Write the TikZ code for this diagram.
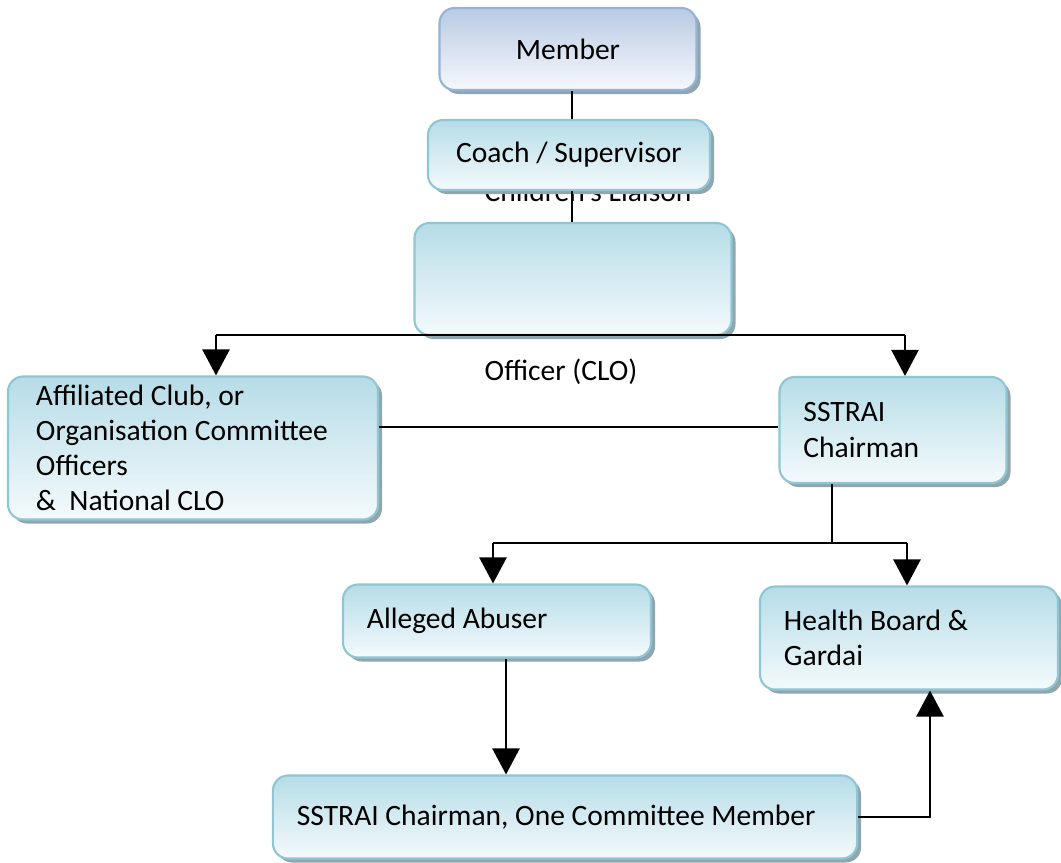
\documentclass[tikz,border=0pt]{standalone}
\usepackage{fontspec}
\setmainfont{Carlito}
\usepackage{xcolor}
\usepackage{tikz}
\usetikzlibrary{arrows.meta,shadows}
\definecolor{boxline}{HTML}{8FC6D5}
\definecolor{boxtop}{HTML}{B6DCE7}
\definecolor{boxbot}{HTML}{F4FAFC}
\definecolor{memline}{HTML}{95B3D7}
\definecolor{memtop}{HTML}{B9CAE4}
\definecolor{membot}{HTML}{F6F8FC}
\definecolor{shadc}{HTML}{8FA6AD}
\tikzset{
  ar/.style={-{Triangle[length=0.65cm,width=0.68cm]},line width=1.3pt,black},
  ln/.style={line width=1.3pt,black},
  box/.style={draw=boxline,line width=1.5pt,rounded corners=0.38cm,top color=boxtop,bottom color=boxbot,
    drop shadow={shadow xshift=0.1cm,shadow yshift=-0.1cm,fill=shadc,opacity=1},
    inner xsep=0.6cm,align=left,font=\fontsize{21}{25}\selectfont,
    execute at begin node={\spaceskip=0pt\relax\xspaceskip=0pt\relax}},
  mbox/.style={box,draw=memline,top color=memtop,bottom color=membot,align=center}
}
\begin{document}
\begin{tikzpicture}[x=0.025cm,y=-0.025cm]
\useasboundingbox (0,0) rectangle (1061,863);
% text partly hidden behind the coach box
\node[anchor=base,font=\fontsize{21}{25}\selectfont] (liaison) at (588,201) {Children's Liaison};
\node[mbox,minimum width=6.425cm,minimum height=2.05cm] (member) at (568,49) {Member};
\node[box,align=center,minimum width=7.05cm,minimum height=1.75cm] (coach) at (569,155) {Coach / Supervisor};
\node[box,minimum width=7.925cm,minimum height=2.8cm] (clo) at (573,279) {};
\node[font=\fontsize{21}{25}\selectfont] (officer) at (561,372) {Officer (CLO)};
\node[box,inner xsep=0.7cm,text width=7.85cm,minimum height=3.575cm] (aff) at (193,448)
  {Affiliated Club, or\\Organisation Committee\\Officers\\\&\ \ National CLO};
\node[box,text width=4.475cm,minimum height=2.65cm] (chair) at (893,430) {SSTRAI\\Chairman};
\node[box,text width=6.5cm,minimum height=1.825cm] (abuser) at (497,621) {Alleged Abuser};
\node[box,text width=6.25cm,minimum height=2.575cm] (health) at (909,638) {Health Board \&\\Gardai};
\node[box,text width=13.4cm,minimum height=2.075cm] (panel) at (565,817) {SSTRAI Chairman, One Committee Member};

% links
\draw[ln] (member.south -| 572,0) -- (coach.north -| 572,0);
\draw[ln] (coach.south -| 572,0) -- (clo.north -| 572,0);
\coordinate (busl) at (216,335);
\coordinate (busr) at (905,335);
\draw[ln] (busl) -- (busr);
\draw[ar] (busl) -- (busl |- aff.north);
\draw[ar] (busr) -- (busr |- chair.north);
\draw[ln] (aff.east |- 0,427) -- (chair.west |- 0,427);
\coordinate (split) at (832,543);
\coordinate (splitl) at (493,543);
\coordinate (splitr) at (907,543);
\draw[ln] (chair.south -| split) -- (split);
\draw[ln] (splitl) -- (splitr);
\draw[ar] (splitl) -- (splitl |- abuser.north);
\draw[ar] (splitr) -- (splitr |- health.north);
\draw[ar] (abuser.south -| 506,0) -- (panel.north -| 506,0);
\coordinate (turn) at (930,817);
\draw[ar] (panel.east |- turn) -- (turn) -- (turn |- health.south);
\end{tikzpicture}
\end{document}
